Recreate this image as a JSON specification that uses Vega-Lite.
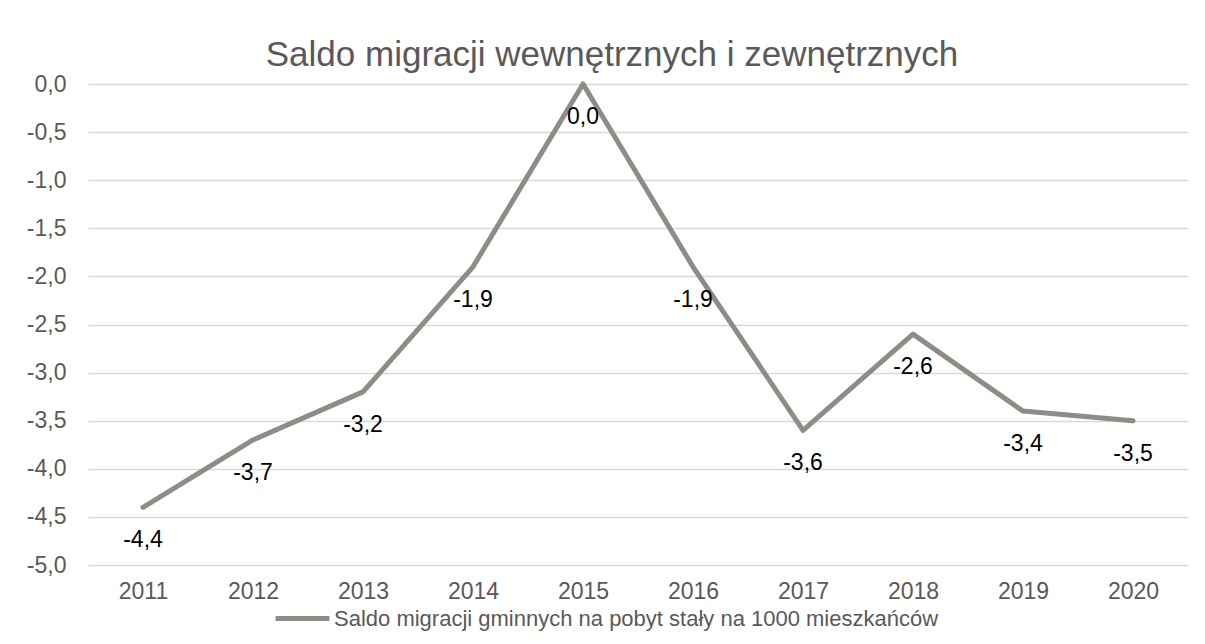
{
  "$schema": "https://vega.github.io/schema/vega-lite/v6.json",
  "autosize": "none",
  "width": 1100,
  "height": 481,
  "padding": {"left": 88, "top": 84, "right": 17, "bottom": 79},
  "background": "white",
  "config": {
    "locale": {"number": {"decimal": ",", "thousands": " ", "grouping": [3], "currency": ["", " zł"], "minus": "-"}},
    "font": "Liberation Sans",
    "view": {"stroke": null}
  },
  "title": {
    "text": "Saldo migracji wewnętrznych i zewnętrznych",
    "fontSize": 35,
    "font": "Liberation Sans",
    "fontWeight": "normal",
    "color": "#595959",
    "anchor": "middle",
    "baseline": "alphabetic",
    "offset": 17,
    "dx": -26,
    "dy": 45
  },
  "data": {
    "values": [
      {"year": "2011", "value": -4.4, "series": "Saldo migracji gminnych na pobyt stały na 1000 mieszkańców"},
      {"year": "2012", "value": -3.7, "series": "Saldo migracji gminnych na pobyt stały na 1000 mieszkańców"},
      {"year": "2013", "value": -3.2, "series": "Saldo migracji gminnych na pobyt stały na 1000 mieszkańców"},
      {"year": "2014", "value": -1.9, "series": "Saldo migracji gminnych na pobyt stały na 1000 mieszkańców"},
      {"year": "2015", "value": 0.0, "series": "Saldo migracji gminnych na pobyt stały na 1000 mieszkańców"},
      {"year": "2016", "value": -1.9, "series": "Saldo migracji gminnych na pobyt stały na 1000 mieszkańców"},
      {"year": "2017", "value": -3.6, "series": "Saldo migracji gminnych na pobyt stały na 1000 mieszkańców"},
      {"year": "2018", "value": -2.6, "series": "Saldo migracji gminnych na pobyt stały na 1000 mieszkańców"},
      {"year": "2019", "value": -3.4, "series": "Saldo migracji gminnych na pobyt stały na 1000 mieszkańców"},
      {"year": "2020", "value": -3.5, "series": "Saldo migracji gminnych na pobyt stały na 1000 mieszkańców"}
    ]
  },
  "encoding": {
    "x": {
      "field": "year",
      "type": "ordinal",
      "scale": {"type": "point", "padding": 0.5},
      "axis": {
        "title": null,
        "labelAngle": 0,
        "labelFontSize": 23,
        "labelColor": "#595959",
        "labelPadding": 15,
        "ticks": false,
        "domain": false,
        "grid": false
      }
    },
    "y": {
      "field": "value",
      "type": "quantitative",
      "scale": {"domain": [-5, 0], "nice": false, "zero": false},
      "axis": {
        "title": null,
        "values": [0, -0.5, -1, -1.5, -2, -2.5, -3, -3.5, -4, -4.5, -5],
        "format": ".1f",
        "labelFontSize": 23,
        "labelColor": "#595959",
        "labelPadding": 22,
        "ticks": false,
        "domain": false,
        "grid": true,
        "gridColor": "#D9D9D9",
        "gridWidth": 1.5
      }
    }
  },
  "layer": [
    {
      "mark": {"type": "line", "strokeWidth": 5, "strokeCap": "round", "strokeJoin": "round"},
      "encoding": {
        "color": {
          "field": "series",
          "type": "nominal",
          "scale": {"range": ["#8D8D86"]},
          "legend": {
            "title": null,
            "orient": "none",
            "legendX": 185,
            "legendY": 505,
            "symbolType": "stroke",
            "symbolSize": 2900,
            "symbolStrokeWidth": 5,
            "labelFontSize": 22,
            "labelColor": "#595959",
            "labelOffset": 2,
            "labelLimit": 800
          }
        }
      }
    },
    {
      "mark": {"type": "text", "dy": 33, "fontSize": 23, "color": "#000000", "baseline": "middle"},
      "encoding": {
        "text": {"field": "value", "type": "quantitative", "format": ".1f"}
      }
    }
  ]
}
